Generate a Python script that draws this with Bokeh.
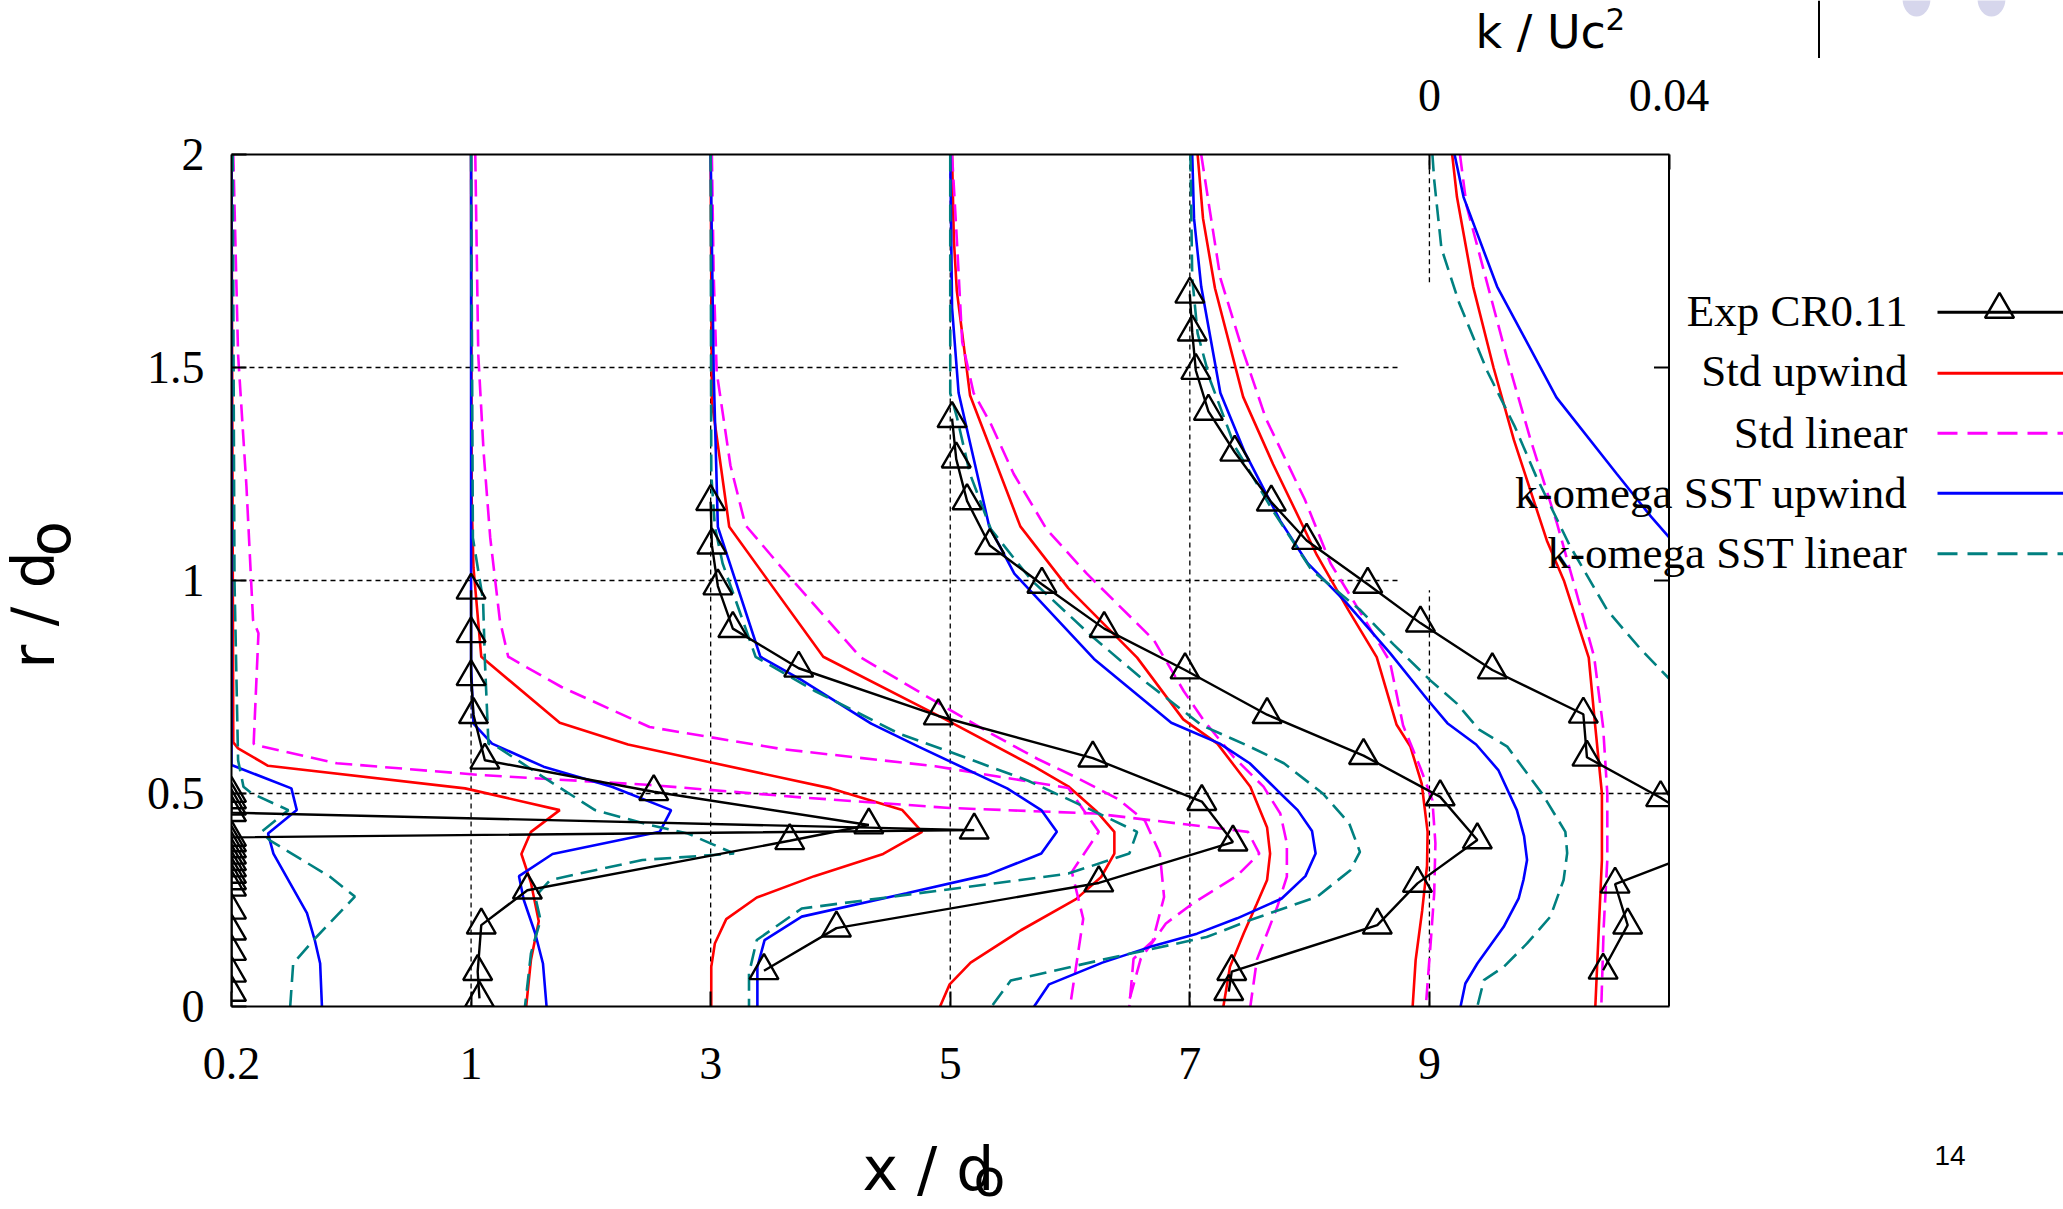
import numpy as np
from bokeh.plotting import figure
from bokeh.models import Range1d, LinearAxis, FixedTicker, Span
from bokeh.layouts import row, column
from bokeh.embed import file_html
from bokeh.resources import INLINE
from bokeh.core.properties import value

# ---------------------------------------------------------------- data
STATION_LABELS = ["0.2", "1", "3", "5", "7", "9"]      # x/d0 stations
SLOT_K = 0.04                                            # k/Uc^2 span of one station slot
R_TICKS = [0, 0.5, 1, 1.5, 2]
R_TICK_LABELS = ["0", "0.5", "1", "1.5", "2"]
TOP_K_TICKS = [0, 0.04]
TOP_K_LABELS = ["0", "0.04"]
LEGEND_LABELS = ["Exp CR0.11", "Std upwind", "Std linear",
                 "k-omega SST upwind", "k-omega SST linear"]

# Exp CR0.11 : r/d0 and k/Uc^2 per station
EXP_R_02 = [0.50, 0.485, 0.47, 0.455, 0.414, 0.397, 0.384, 0.37, 0.355, 0.34, 0.325,
            0.31, 0.295, 0.28, 0.226, 0.177, 0.129, 0.078, 0.033]
EXP_K_02 = [0, 0, 0, 0, 0.124, 0, 0, 0, 0, 0, 0, 0, 0, 0, 0, 0, 0, 0, 0]
EXP_R_1 = [0.977, 0.875, 0.774, 0.685, 0.578, 0.504, 0.426, 0.389, 0.273, 0.191, 0.082, 0.019]
EXP_K_1 = [0, 0, 0, 0.0004, 0.0023, 0.0305, 0.0664, 0.0532, 0.0094, 0.0017, 0.0011, 0.0014]
EXP_R_3 = [1.185, 1.083, 0.987, 0.887, 0.794, 0.682, 0.583, 0.481, 0.386, 0.29, 0.184, 0.084]
EXP_K_3 = [0, 0.0002, 0.0012, 0.0037, 0.0147, 0.038, 0.0638, 0.082, 0.0872, 0.0648, 0.021, 0.0089]
EXP_R_5 = [1.38, 1.285, 1.187, 1.082, 0.991, 0.887, 0.79, 0.685, 0.589, 0.492, 0.391,
           0.289, 0.191, 0.082, 0.035]
EXP_K_5 = [0.0003, 0.001, 0.0028, 0.0066, 0.0153, 0.0257, 0.0392, 0.0529, 0.069, 0.0818,
           0.088, 0.078, 0.0713, 0.047, 0.0465]
EXP_R_7 = [1.672, 1.583, 1.493, 1.397, 1.301, 1.184, 1.094, 0.991, 0.9, 0.79, 0.686,
           0.585, 0.49, 0.39, 0.287, 0.191, 0.085]
EXP_K_7 = [0, 0.0004, 0.001, 0.0031, 0.0075, 0.0136, 0.0195, 0.0297, 0.0385, 0.0505,
           0.0657, 0.0663, 0.0786, 0.090, 0.071, 0.0731, 0.069]

# Std upwind
UP_R_02 = [2.0, 0.62, 0.606, 0.565, 0.512, 0.461, 0.41, 0.358, 0.29, 0.2, 0.11, 0.0]
UP_K_02 = [0.0, 0.0003, 0.0011, 0.0061, 0.039, 0.0548, 0.050, 0.0484, 0.050, 0.0513, 0.050, 0.0492]
UP_R_1 = [2.0, 1.19, 1.03, 0.821, 0.666, 0.615, 0.574, 0.512, 0.461, 0.41, 0.358, 0.306,
          0.256, 0.205, 0.148, 0.093, 0.0]
UP_K_1 = [0.0, 0.0001, 0.0004, 0.0017, 0.0148, 0.0262, 0.0397, 0.0601, 0.072, 0.0753,
          0.0688, 0.0573, 0.0477, 0.0426, 0.0407, 0.0401, 0.0401]
UP_R_3 = [2.0, 1.42, 1.126, 0.821, 0.68, 0.564, 0.517, 0.457, 0.41, 0.359, 0.304, 0.252,
          0.179, 0.103, 0.052, 0.0]
UP_K_3 = [0.0, 0.0002, 0.0031, 0.0188, 0.0384, 0.0539, 0.0597, 0.0645, 0.0674, 0.0674,
          0.0652, 0.061, 0.0518, 0.0434, 0.0399, 0.0383]
UP_R_5 = [2.0, 1.80, 1.68, 1.435, 1.127, 0.982, 0.819, 0.674, 0.617, 0.516, 0.42, 0.359,
          0.297, 0.242, 0.172, 0.093, 0.0]
UP_K_5 = [0.0003, 0.0006, 0.0011, 0.0033, 0.0117, 0.0197, 0.0312, 0.0389, 0.0446, 0.0501,
          0.0529, 0.0534, 0.0529, 0.0512, 0.049, 0.0467, 0.0456]
UP_R_7 = [2.0, 1.85, 1.686, 1.431, 1.273, 1.06, 0.93, 0.82, 0.662, 0.611, 0.524, 0.41,
          0.33, 0.226, 0.109, 0.0]
UP_K_7 = [0.0013, 0.0022, 0.0042, 0.0089, 0.0139, 0.0212, 0.0265, 0.0312, 0.0345, 0.0368,
          0.0387, 0.0397, 0.0396, 0.0388, 0.0377, 0.0372]
UP_R_9 = [2.0, 1.9, 1.69, 1.5, 1.33, 1.094, 0.998, 0.819, 0.656, 0.5, 0.344, 0.19, 0.0]
UP_K_9 = [0.0038, 0.0046, 0.0073, 0.0107, 0.0141, 0.0196, 0.0225, 0.0266, 0.0277, 0.0288,
          0.0288, 0.0283, 0.0277]

# Std linear
LIN_R_02 = [2.0, 1.53, 1.22, 0.907, 0.876, 0.617, 0.614, 0.571, 0.543, 0.52, 0.491, 0.466,
            0.453, 0.41, 0.359, 0.306, 0.243, 0.195, 0.112, 0.0]
LIN_K_02 = [0.0003, 0.0011, 0.0025, 0.0036, 0.0045, 0.0037, 0.0039, 0.0176, 0.042, 0.0699,
            0.095, 0.1199, 0.1442, 0.1697, 0.1716, 0.1678, 0.1606, 0.156, 0.1518, 0.1496]
LIN_R_1 = [2.0, 1.53, 1.3, 1.1, 0.907, 0.821, 0.75, 0.656, 0.604, 0.564, 0.513, 0.41,
           0.316, 0.206, 0.0]
LIN_K_1 = [0.0007, 0.0012, 0.0021, 0.0032, 0.0048, 0.0062, 0.0151, 0.0298, 0.052, 0.0775,
           0.0997, 0.1048, 0.1003, 0.1022, 0.1000]
LIN_R_3 = [2.0, 1.72, 1.49, 1.27, 1.13, 1.016, 0.82, 0.712, 0.64, 0.581, 0.538, 0.487,
           0.436, 0.359, 0.257, 0.154, 0.112, 0.0]
LIN_K_3 = [0.0002, 0.0005, 0.001, 0.0033, 0.0058, 0.0127, 0.025, 0.038, 0.0469, 0.0546,
           0.061, 0.068, 0.0725, 0.075, 0.0757, 0.0738, 0.0706, 0.0699]
LIN_R_5 = [2.0, 1.8, 1.56, 1.44, 1.37, 1.25, 1.12, 1.016, 0.86, 0.74, 0.672, 0.586, 0.516,
           0.453, 0.383, 0.305, 0.234, 0.11, 0.0]
LIN_K_5 = [0.0003, 0.0011, 0.002, 0.0039, 0.0067, 0.0106, 0.0161, 0.0228, 0.034, 0.039,
           0.0423, 0.0473, 0.0523, 0.0551, 0.0562, 0.0562, 0.0546, 0.0512, 0.0501]
LIN_R_7 = [2.0, 1.89, 1.71, 1.55, 1.38, 1.19, 1.04, 0.92, 0.81, 0.66, 0.56, 0.484, 0.383,
           0.266, 0.148, 0.0]
LIN_K_7 = [0.0019, 0.0031, 0.0051, 0.0086, 0.0127, 0.0192, 0.0235, 0.0287, 0.0334, 0.0356,
           0.0385, 0.0405, 0.041, 0.0408, 0.0402, 0.0394]
LIN_R_9 = [2.0, 1.88, 1.70, 1.52, 1.33, 1.134, 0.984, 0.821, 0.656, 0.5, 0.344, 0.187, 0.0]
LIN_K_9 = [0.0051, 0.0062, 0.0096, 0.013, 0.0169, 0.0213, 0.0243, 0.0275, 0.029, 0.0297,
           0.0297, 0.0291, 0.0287]

# k-omega SST upwind
SUP_R_02 = [2.0, 0.567, 0.512, 0.461, 0.406, 0.359, 0.219, 0.156, 0.101, 0.0]
SUP_K_02 = [0, 0, 0.01, 0.0109, 0.0061, 0.007, 0.0126, 0.0139, 0.0148, 0.0151]
SUP_R_1 = [2.0, 0.8, 0.664, 0.617, 0.563, 0.516, 0.461, 0.41, 0.358, 0.306, 0.25, 0.172,
           0.101, 0.0]
SUP_K_1 = [0, 0, 0.0004, 0.0035, 0.0121, 0.0235, 0.0334, 0.0315, 0.0136, 0.008, 0.0088,
           0.0107, 0.012, 0.0126]
SUP_R_3 = [2.0, 1.49, 1.126, 0.821, 0.766, 0.664, 0.61, 0.512, 0.461, 0.41, 0.359, 0.309,
           0.266, 0.211, 0.156, 0.093, 0.0]
SUP_K_3 = [0, 0.0005, 0.0012, 0.0083, 0.0152, 0.0268, 0.0347, 0.0495, 0.0552, 0.0578,
           0.0552, 0.0462, 0.0327, 0.0152, 0.009, 0.0078, 0.0078]
SUP_R_5 = [2.0, 1.64, 1.44, 1.127, 1.016, 0.816, 0.666, 0.617, 0.571, 0.506, 0.461, 0.412,
           0.359, 0.306, 0.253, 0.207, 0.171, 0.14, 0.103, 0.052, 0.0]
SUP_K_5 = [0, 0.0003, 0.0014, 0.0065, 0.0107, 0.024, 0.0369, 0.045, 0.050, 0.0547, 0.058,
           0.0604, 0.061, 0.0593, 0.0553, 0.0479, 0.0412, 0.0334, 0.0254, 0.0165, 0.014]
SUP_R_7 = [2.0, 1.85, 1.69, 1.44, 1.30, 1.14, 1.04, 0.95, 0.83, 0.72, 0.665, 0.615, 0.555,
           0.461, 0.40, 0.344, 0.297, 0.254, 0.187, 0.101, 0.054, 0.0]
SUP_K_7 = [0.0004, 0.0007, 0.0019, 0.0051, 0.0092, 0.0151, 0.0197, 0.026, 0.0334, 0.0397,
           0.043, 0.0478, 0.0515, 0.0546, 0.0558, 0.0563, 0.0557, 0.0549, 0.0524, 0.048,
           0.046, 0.0452]
SUP_R_9 = [2.0, 1.9, 1.69, 1.43, 1.25, 1.15, 1.10]
SUP_K_9 = [0.0042, 0.0057, 0.0113, 0.0212, 0.0313, 0.037, 0.0401]

# k-omega SST linear
SLIN_R_02 = [2.0, 1.0, 0.578, 0.516, 0.5, 0.461, 0.41, 0.39, 0.305, 0.258, 0.156, 0.101, 0.0]
SLIN_K_02 = [0.0002, 0.0005, 0.0011, 0.002, 0.0034, 0.0095, 0.005, 0.0064, 0.0164, 0.0206,
             0.0137, 0.0103, 0.0098]
SLIN_R_1 = [2.0, 1.1, 0.954, 0.813, 0.617, 0.61, 0.539, 0.461, 0.426, 0.406, 0.359, 0.344,
            0.297, 0.258, 0.203, 0.125, 0.0]
SLIN_K_1 = [0, 0.0003, 0.002, 0.0023, 0.0029, 0.0043, 0.012, 0.0207, 0.0298, 0.0362, 0.0439,
            0.0286, 0.0132, 0.0107, 0.0116, 0.010, 0.009]
SLIN_R_3 = [2.0, 1.25, 1.126, 1.04, 0.821, 0.74, 0.641, 0.598, 0.53, 0.461, 0.41, 0.359,
            0.312, 0.297, 0.23, 0.156, 0.078, 0.0]
SLIN_K_3 = [0, 0.0001, 0.0007, 0.002, 0.0075, 0.0175, 0.0314, 0.0399, 0.053, 0.0636, 0.0712,
            0.0699, 0.0597, 0.0517, 0.0152, 0.0077, 0.0064, 0.0064]
SLIN_R_5 = [2.0, 1.44, 1.384, 1.25, 1.12, 1.0, 0.871, 0.76, 0.66, 0.61, 0.571, 0.5, 0.43,
            0.363, 0.32, 0.258, 0.203, 0.163, 0.112, 0.061, 0.0]
SLIN_K_5 = [0, 0, 0.0011, 0.0033, 0.0068, 0.0136, 0.0235, 0.0328, 0.042, 0.050, 0.0557,
            0.0622, 0.0666, 0.0684, 0.0668, 0.0613, 0.0501, 0.0428, 0.0261, 0.0101, 0.0069]
SLIN_R_7 = [2.0, 1.71, 1.58, 1.47, 1.315, 1.163, 1.025, 0.93, 0.85, 0.765, 0.711, 0.65,
            0.61, 0.5, 0.41, 0.36, 0.297, 0.211, 0.148, 0.093, 0.062, 0.0]
SLIN_K_7 = [0.0001, 0.0004, 0.0013, 0.0034, 0.0075, 0.0139, 0.0203, 0.0285, 0.034, 0.0402,
            0.0446, 0.0483, 0.053, 0.0588, 0.0627, 0.063, 0.0624, 0.0602, 0.0563, 0.0524,
            0.0491, 0.048]
SLIN_R_9 = [2.0, 1.94, 1.78, 1.65, 1.49, 1.36, 1.245, 1.08, 0.93, 0.84, 0.77]
SLIN_K_9 = [0.0005, 0.0008, 0.002, 0.005, 0.0097, 0.0143, 0.0178, 0.0235, 0.0297, 0.0352, 0.040]

# ---------------------------------------------------------------- tables
EXP = [(0, EXP_R_02, EXP_K_02), (1, EXP_R_1, EXP_K_1), (2, EXP_R_3, EXP_K_3),
       (3, EXP_R_5, EXP_K_5), (4, EXP_R_7, EXP_K_7)]
MODELS = [
    ("Std upwind", "#ff0000", "solid",
     [(0, UP_R_02, UP_K_02), (1, UP_R_1, UP_K_1), (2, UP_R_3, UP_K_3),
      (3, UP_R_5, UP_K_5), (4, UP_R_7, UP_K_7), (5, UP_R_9, UP_K_9)]),
    ("Std linear", "#ff00ff", "17 8",
     [(0, LIN_R_02, LIN_K_02), (1, LIN_R_1, LIN_K_1), (2, LIN_R_3, LIN_K_3),
      (3, LIN_R_5, LIN_K_5), (4, LIN_R_7, LIN_K_7), (5, LIN_R_9, LIN_K_9)]),
    ("k-omega SST upwind", "#0000ff", "solid",
     [(0, SUP_R_02, SUP_K_02), (1, SUP_R_1, SUP_K_1), (2, SUP_R_3, SUP_K_3),
      (3, SUP_R_5, SUP_K_5), (4, SUP_R_7, SUP_K_7), (5, SUP_R_9, SUP_K_9)]),
    ("k-omega SST linear", "#008080", "17 8",
     [(0, SLIN_R_02, SLIN_K_02), (1, SLIN_R_1, SLIN_K_1), (2, SLIN_R_3, SLIN_K_3),
      (3, SLIN_R_5, SLIN_K_5), (4, SLIN_R_7, SLIN_K_7), (5, SLIN_R_9, SLIN_K_9)]),
]

# ---------------------------------------------------------------- layout constants (canvas px)
W, H = 2063, 1209
LS_W = 100           # left strip (y title)
TS_H = 58            # top strip (k title)
BS_Y0 = 1100         # bottom strip starts here (x title, slide number)
FL, FT, FB = 231, 154, 1006   # frame left / top / bottom
AX_R = 1668.5                 # right edge of the axes box
N = len(STATION_LABELS)
XMAX = SLOT_K * N
PXX = (AX_R - FL) / XMAX
X_END = (W - FL) / PXX
PXY = (FB - FT) / 2.0
FIX_SERIF = 0.27     # text glyph baseline correction (fraction of font size)
FIX_SANS = 0.33
SERIF = "Liberation Serif"
SANS = "DejaVu Sans"


def dx(px):
    return (px - FL) / PXX


def dy(py):
    return (FB - py) / PXY


MW, MH = W - LS_W, BS_Y0 - TS_H
p = figure(width=MW, height=MH, x_range=Range1d(0, X_END), y_range=Range1d(0, 2),
           output_backend="svg", toolbar_location=None,
           x_axis_type=None, y_axis_type=None,
           min_border_left=FL - LS_W, min_border_right=0, min_border_top=FT - TS_H,
           min_border_bottom=BS_Y0 - FB)
p.outline_line_color = None


def style_axis(ax, standoff):
    ax.axis_line_width = 2
    ax.axis_line_color = "black"
    ax.major_tick_in = 15
    ax.major_tick_out = 0
    ax.major_tick_line_width = 2
    ax.minor_tick_line_color = None
    ax.major_label_text_font = SERIF
    ax.major_label_text_font_size = "46px"
    ax.major_label_text_color = "black"
    ax.major_label_standoff = standoff


x_ticks = [round(i * SLOT_K, 10) for i in range(N)]
xb = LinearAxis(ticker=FixedTicker(ticks=x_ticks), bounds=(0, XMAX),
                major_label_overrides={t: s for t, s in zip(x_ticks, STATION_LABELS)})
style_axis(xb, 41)
p.add_layout(xb, "below")

yl = LinearAxis(ticker=FixedTicker(ticks=R_TICKS),
                major_label_overrides={t: s for t, s in zip(R_TICKS, R_TICK_LABELS)})
style_axis(yl, 27)
p.add_layout(yl, "left")

top_ticks = [round(x_ticks[-1] + t, 10) for t in TOP_K_TICKS]
xt = LinearAxis(ticker=FixedTicker(ticks=top_ticks), bounds=(0, XMAX),
                major_label_overrides={t: s for t, s in zip(top_ticks, TOP_K_LABELS)})
style_axis(xt, 44)
p.add_layout(xt, "above")

# ---- grid (dashed), with the gap left by the key box near x/d0 = 9
gap_x0 = dx(1397)
gap_r = (0.977, 1.70)
gx0, gy0, gx1, gy1 = [], [], [], []
for t in x_ticks[1:]:
    if t == x_ticks[-1]:
        gx0 += [t, t]; gx1 += [t, t]; gy0 += [0, gap_r[1]]; gy1 += [gap_r[0], 2]
    else:
        gx0.append(t); gx1.append(t); gy0.append(0); gy1.append(2)
for r in R_TICKS[1:-1]:
    gx0.append(0); gy0.append(r); gy1.append(r)
    gx1.append(XMAX if r < gap_r[0] else gap_x0)
p.segment(gx0, gy0, gx1, gy1, line_color="black", line_width=1.3, line_dash="5 4")

# ---- model curves
for name, color, dash, runs in MODELS:
    for st, r, k in runs:
        p.line(np.array(k) + x_ticks[st], r, line_color=color, line_width=2.6,
               line_dash=dash)

# ---- experiment
for st, r, k in EXP:
    xs = np.array(k) + x_ticks[st]
    p.line(xs, r, line_color="black", line_width=2.4)
    p.scatter(xs, r, marker="triangle", size=29, line_color="black", line_width=2.4,
              fill_color=None)

# ---- hide everything right of the axes box (key area)
p.quad(left=[XMAX], right=[X_END], bottom=[0], top=[2], fill_color="white",
       line_color=None)
p.add_layout(Span(location=XMAX, dimension="height", line_color="black", line_width=2))
tick_len = 15 / PXX
p.segment([XMAX - tick_len] * 3, R_TICKS[1:-1], [XMAX] * 3, R_TICKS[1:-1],
          line_color="black", line_width=2)

# ---- key
row_base = [323, 383, 445, 505, 565]
row_line = [311.7, 372.7, 432.7, 492.7, 553.3]
p.text(x=[dx(1907)] * 5, y=[dy(b - FIX_SERIF * 45) for b in row_base], text=LEGEND_LABELS,
       text_align="right", text_baseline="alphabetic",
       text_font=value(SERIF), text_font_size="45px", text_color="black")
key_styles = [("black", "solid")] + [(c, "20 10" if d != "solid" else "solid")
                                      for _, c, d, _ in MODELS]
for (c, d), yl_px in zip(key_styles, row_line):
    p.line([dx(1937), X_END], [dy(yl_px)] * 2, line_color=c, line_width=3, line_dash=d)
p.scatter([dx(1999)], [dy(309)], marker="triangle", size=29, line_color="black",
          line_width=2.5, fill_color=None)


# ---------------------------------------------------------------- title strips
def strip(w, h, x0, x1, border_left):
    f = figure(width=w, height=h, x_range=Range1d(x0, x1), y_range=Range1d(0, h),
               output_backend="svg", toolbar_location=None,
               x_axis_type=None, y_axis_type=None, min_border=0,
               min_border_left=border_left, min_border_right=0)
    f.outline_line_color = None
    return f


# left strip: r/d0 (rotated, reads upward)
ls = strip(LS_W, H, 0, LS_W, 0)
ls.text(x=[53 - FIX_SANS * 58, 69 - FIX_SANS * 58], y=[H - 668, H - 556],
        text=["r / d", "o"], angle=np.pi / 2, text_align="left",
        text_baseline="alphabetic", text_font=value(SANS), text_font_size="58px",
        text_color="black")

# top strip (x data = canvas px): k/Uc^2 and slide decorations
ts = strip(MW, TS_H, FL, W, FL - LS_W)
ts.text(x=[1475], y=[TS_H - (47 - FIX_SANS * 46)], text=["k / Uc"],
        text_align="left", text_baseline="alphabetic", text_font=value(SANS),
        text_font_size="46px", text_color="black")
ts.text(x=[1605], y=[TS_H - (29 - FIX_SANS * 31)], text=["2"],
        text_align="left", text_baseline="alphabetic", text_font=value(SANS),
        text_font_size="31px", text_color="black")
ts.segment(x0=[1818.5], y0=[0], x1=[1818.5], y1=[TS_H],
           line_color="black", line_width=2)
ts.ellipse(x=[1916, 1991], y=[TS_H + 2, TS_H + 2], width=28, height=36,
           fill_color="#d6d6ec", line_color=None)

# bottom strip (x data = canvas px): x/d0, its subscript, and slide number
BS_H = H - BS_Y0
bs = strip(MW, BS_H, FL, W, FL - LS_W)
bs.text(x=[862], y=[H - (1188 - FIX_SANS * 60)],
        text=["x / d"], text_align="left", text_baseline="alphabetic",
        text_font=value(SANS), text_font_size="60px", text_color="black")
bs.text(x=[973], y=[H - (1195 - FIX_SANS * 52)],
        text=["o"], text_align="left", text_baseline="alphabetic",
        text_font=value(SANS), text_font_size="52px", text_color="black")
bs.text(x=[1934], y=[H - (1164 - FIX_SANS * 28)], text=["14"], text_align="left",
        text_baseline="alphabetic", text_font=value("Liberation Sans"),
        text_font_size="28px", text_color="black")

layout = row(ls, column(ts, p, bs))
open("out.html", "w").write(file_html(layout, INLINE))
